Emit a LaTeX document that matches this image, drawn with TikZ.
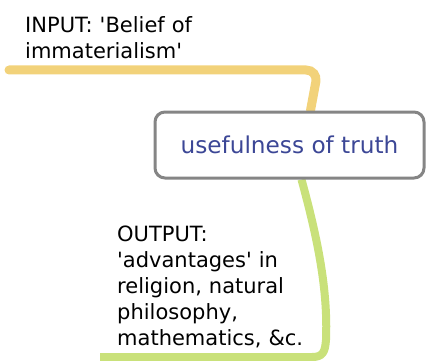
\documentclass[tikz,border=0pt]{standalone}
\usepackage{fontspec}
\newfontfamily\plainsans{DejaVu Sans}
\usetikzlibrary{backgrounds}
\definecolor{inyellow}{HTML}{F2D27A}
\definecolor{outgreen}{HTML}{C9E17A}
\definecolor{boxgray}{HTML}{858585}
\definecolor{topicblue}{HTML}{3C4796}
\tikzset{
  topic/.style={draw=boxgray, line width=3pt, rounded corners=10pt, fill=white,
    minimum width=269pt, minimum height=66pt, inner sep=0pt,
    text=topicblue, font=\plainsans\fontsize{23.2}{26}\selectfont},
  label/.style={anchor=base west, inner sep=0pt, align=left, text width=200pt,
    font=\plainsans\fontsize{21}{26}\selectfont},
  branch/.style={line width=9pt, line cap=round, rounded corners=12pt}
}
\begin{document}
\begin{tikzpicture}[x=1pt,y=-1pt]
\useasboundingbox (0,0) rectangle (426,361);
\node[topic] (topic) at (289.5,145) {usefulness of truth};
\node[label] (input) at (25,33) {INPUT: 'Belief of\\immaterialism'};
\node[label] (output) at (117,241) {OUTPUT:\\'advantages' in\\religion, natural\\philosophy,\\mathematics, \&c.};
\coordinate (inend) at (9,70);
\coordinate (outend) at (100,357);
\begin{pgfonlayer}{background}
\draw[branch, inyellow] (inend) -- (318,70) -- ([xshift=21pt]topic.north);
\draw[branch, outgreen, line width=8pt, line cap=butt, rounded corners=0pt]
  ([xshift=12pt]topic.south) .. controls (318,240) and (328,290) .. (326,340)
  .. controls (325,352) and (323,357) .. (312,357) -- (outend);
\end{pgfonlayer}
\end{tikzpicture}
\end{document}
